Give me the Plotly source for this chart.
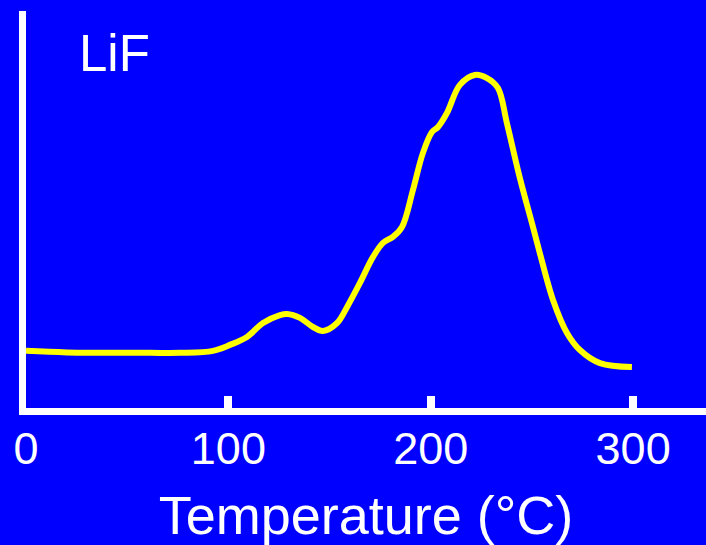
import plotly.graph_objects as go

# Temperature (°C)
temperature = [0, 20.3, 61.3, 76.1, 92.4, 100.8, 109.2, 117.1, 125.5, 129.0, 135.4,
               141.8, 146.7, 153.7, 158.6, 165.0, 171.4, 176.4, 181.3, 185.8, 191.2,
               196.1, 200.6, 203.6, 208.0, 214.4, 221.8, 227.8, 233.2, 237.6, 243.9,
               250.5, 253.9, 260.4, 267.3, 273.7, 283.6, 299.4]
# Thermoluminescence intensity (arbitrary units)
intensity = [14.4, 14.0, 13.9, 13.9, 14.4, 15.9, 17.9, 21.4, 23.4, 23.7, 22.7,
             20.4, 19.4, 21.4, 25.4, 31.5, 38.0, 41.6, 43.1, 45.6, 54.9,
             64.2, 69.5, 70.8, 74.3, 81.4, 83.9, 83.1, 80.6, 71.8, 58.2,
             45.6, 39.0, 27.2, 18.9, 14.6, 11.3, 10.3]

tick_vals = [0, 100, 200, 300]
tick_text = ["0", "100", "200", "300"]

BG = "#0000FF"
FONT = "Liberation Sans, Arial, sans-serif"

fig = go.Figure()
fig.add_trace(go.Scatter(
    x=temperature, y=intensity, mode="lines",
    line=dict(color="#FFFF00", width=6, shape="spline", smoothing=1.0),
    showlegend=False, hoverinfo="skip",
))

fig.add_annotation(
    x=25, y=89.2, xref="x", yref="y", text="LiF", showarrow=False,
    xanchor="left", yanchor="middle",
    font=dict(family=FONT, size=51, color="white"),
)

fig.update_layout(
    width=706, height=545,
    margin=dict(l=26, r=0, t=11, b=137),
    paper_bgcolor=BG, plot_bgcolor=BG,
    xaxis=dict(
        range=[0, 336], showgrid=False, zeroline=False,
        showline=True, linecolor="white", linewidth=7,
        ticks="inside", ticklen=12, tickwidth=8, tickcolor="white",
        tickvals=tick_vals, ticktext=tick_text, ticklabelstandoff=-5,
        tickfont=dict(family=FONT, size=45, color="white"),
        title=dict(text="Temperature (°C)", standoff=27,
                   font=dict(family=FONT, size=54, color="white")),
    ),
    yaxis=dict(
        range=[0, 100], showgrid=False, zeroline=False,
        showline=True, linecolor="white", linewidth=7,
        showticklabels=False, ticks="",
    ),
)

fig.write_html("out.html", config={"displayModeBar": False},
               post_script="document.body.style.margin='0';document.body.style.overflow='hidden';")
